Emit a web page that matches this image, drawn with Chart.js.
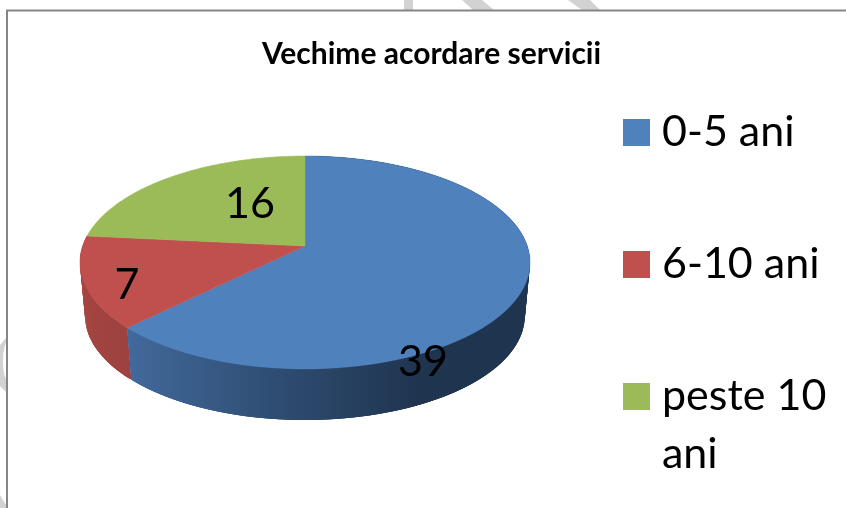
<!DOCTYPE html>
<html><head><meta charset="utf-8">
<style>html,body{margin:0;padding:0;background:#fff}#w{width:846px;height:508px}</style>
<script src="https://cdn.jsdelivr.net/npm/chart.js@4"></script></head>
<body><div id="w"><canvas id="c"></canvas></div>
<script>
const categories = ['0-5 ani', '6-10 ani', 'peste 10 ani'];
const legendLines = [['0-5 ani'], ['6-10 ani'], ['peste 10', 'ani']];
const values = [39, 7, 16];
const faceColors = ['#4f81bd', '#c0504d', '#9bbb59'];
const titleText = 'Vechime acordare servicii';
const FONT = 'Lato, Carlito, Calibri, sans-serif';

const apex = {x: 305, y: 246};
const P = {A: 222.3, B: 103.9, k: 0.1546, depth: 54, shrink: 0.977};
// angular placement of slice edges as they appear in the reference's 3D rendering
const edgeNudge = [0, -1, 8.5, 0];
const labelPos = [{x: 423, y: 362}, {x: 127, y: 285}, {x: 250, y: 204}];
const LEG = {left: 543.5, top: 21.5};
// faint page background showing outside the chart frame
const backdropShapes = [
  [[404, 0], [413, 0], [413, 10], [404, 10]],
  [[462, 0], [482, 0], [494, 10], [473, 10]],
  [[568, 0], [590, 0], [600, 10], [582, 10]],
  [[0, 345], [6, 338], [6, 392], [0, 386]],
  [[0, 495], [6, 505], [6, 508], [0, 508]]
];

function swatch(color) {
  const s = document.createElement('canvas');
  s.width = 27; s.height = 27;
  const x = s.getContext('2d');
  x.fillStyle = color; x.fillRect(0, 0, 27, 27);
  return s;
}
const swatches = faceColors.map(swatch);

function project(theta, bottom) {
  const u = Math.sin(theta), v = Math.cos(theta), d = 1 + P.k * v;
  const s = bottom ? P.shrink : 1;
  return {x: apex.x + s * P.A * u / d, y: apex.y + (bottom ? P.depth : 0) - s * P.B * v / d};
}
function edges(arcs) {
  return arcs.map((a, i) => [
    a.startAngle + Math.PI / 2 + edgeNudge[i] * Math.PI / 180,
    a.endAngle + Math.PI / 2 + edgeNudge[i + 1] * Math.PI / 180
  ]);
}
function ring(ctx, a, b) {
  const n = 120;
  for (let i = 0; i <= n; i++) {
    const p = project(a + (b - a) * i / n, false);
    ctx.lineTo(p.x, p.y);
  }
}
function wall(ctx, a, b, fill) {
  const n = 120;
  ctx.fillStyle = fill;
  for (let i = 0; i < n; i++) {
    const t0 = a + (b - a) * i / n, t1 = a + (b - a) * Math.min(i + 3, n) / n;
    const p = [project(t0, false), project(t1, false), project(t1, true), project(t0, true)];
    ctx.beginPath();
    ctx.moveTo(p[0].x, p[0].y);
    for (let j = 1; j < 4; j++) ctx.lineTo(p[j].x, p[j].y);
    ctx.closePath(); ctx.fill();
  }
}
const pie3d = {
  id: 'pie3d',
  beforeDraw(chart) {
    const c = chart.ctx;
    c.save();
    c.fillStyle = '#fff'; c.fillRect(0, 0, 846, 508);
    c.fillStyle = '#d2d2d2';
    backdropShapes.forEach(s => {
      c.beginPath();
      s.forEach(([x, y], i) => i ? c.lineTo(x, y) : c.moveTo(x, y));
      c.closePath(); c.fill();
    });
    c.fillStyle = '#fff';
    c.beginPath(); c.ellipse(7, 361, 4, 18, 0, 0, Math.PI * 2); c.fill();
    c.restore();
    chart.legend.left = LEG.left;
    chart.legend.top = LEG.top;
  },
  beforeDatasetDraw(chart) {
    const ctx = chart.ctx, arcs = chart.getDatasetMeta(0).data;
    const e = edges(arcs);
    ctx.save();
    const g = ctx.createLinearGradient(130, 0, 420, 0);
    g.addColorStop(0, '#41699b'); g.addColorStop(0.5, '#2f4d72'); g.addColorStop(1, '#1f344f');
    const r = ctx.createLinearGradient(80, 0, 132, 0);
    r.addColorStop(0, '#a54441'); r.addColorStop(1, '#9b4240');
    wall(ctx, e[1][0], e[1][1], r);
    wall(ctx, e[0][0], e[0][1], g);
    e.forEach(([a, b], i) => {
      ctx.beginPath();
      ctx.moveTo(apex.x, apex.y);
      ring(ctx, a, b);
      ctx.closePath();
      ctx.fillStyle = faceColors[i]; ctx.fill();
      ctx.strokeStyle = faceColors[i]; ctx.lineWidth = 0.5; ctx.stroke();
    });
    ctx.fillStyle = '#000';
    ctx.font = '43px ' + FONT;
    ctx.textAlign = 'center'; ctx.textBaseline = 'middle';
    values.forEach((v, i) => ctx.fillText(String(v), labelPos[i].x, labelPos[i].y));
    ctx.restore();
    return false;
  },
  afterDraw(chart) {
    const c = chart.ctx;
    c.save();
    c.strokeStyle = '#868686'; c.lineWidth = 2;
    c.beginPath(); c.moveTo(7, 508); c.lineTo(7, 10.5); c.lineTo(846, 10.5); c.stroke();
    c.restore();
  }
};
new Chart(document.getElementById('c'), {
  type: 'pie',
  data: {labels: categories, datasets: [{data: values, backgroundColor: faceColors, borderWidth: 0}]},
  options: {
    responsive: true, maintainAspectRatio: false, animation: false,
    layout: {padding: {top: 28, right: 10, left: 27, bottom: 0}},
    plugins: {
      tooltip: {enabled: false},
      title: {display: true, text: titleText, color: '#000', font: {family: FONT, size: 30, weight: 'bold'}, padding: {top: 8, bottom: 20}},
      legend: {
        position: 'right', align: 'start',
        labels: {
          usePointStyle: true, pointStyleWidth: 8, boxHeight: 27, padding: 89, color: '#000',
          font: {family: FONT, size: 43, lineHeight: 1.35},
          generateLabels: () => legendLines.map((t, i) => ({text: t.length > 1 ? t : t[0], pointStyle: swatches[i], fillStyle: faceColors[i], strokeStyle: faceColors[i], lineWidth: 0, hidden: false, index: i}))
        }
      }
    }
  },
  plugins: [pie3d]
});
</script></body></html>
